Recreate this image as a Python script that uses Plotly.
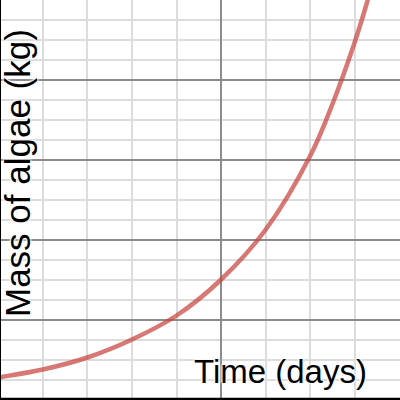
import plotly.graph_objects as go

# Data (time in days, mass in kg units of the grid)
days = [-0.1, 0, 1, 2, 3, 4, 5, 6, 7, 7.5, 8, 8.25, 8.5]
mass = [1.06, 1.1, 1.5, 2.1, 3.0, 4.2, 6.0, 8.5, 12.2, 14.8, 17.9, 19.7, 21.7]

x_label = "Time (days)"
y_label = "Mass of algae (kg)"

halo = "white 0px 0px 2px, white 0px 0px 2px, white 0px 0px 3px, white 0px 0px 3px"

fig = go.Figure()
fig.add_trace(go.Scatter(
    x=days, y=mass, mode="lines", line_shape="spline",
    line=dict(color="rgba(199,68,64,0.72)", width=4.5),
    hoverinfo="skip", showlegend=False,
))

fig.update_layout(
    width=400, height=400,
    margin=dict(l=0, r=0, t=0, b=0),
    paper_bgcolor="white", plot_bgcolor="white",
    xaxis=dict(range=[0.04, 9.01], showticklabels=False, ticks="",
               tick0=0, dtick=5, showgrid=True, gridcolor="#8c8c8c", gridwidth=1.5,
               zeroline=False, showline=False,
               minor=dict(dtick=1, tick0=0, showgrid=True, gridcolor="#dcdcdc", gridwidth=1.5, ticks="")),
    yaxis=dict(range=[-0.025, 19.975], showticklabels=False, ticks="",
               tick0=0, dtick=4, showgrid=True, gridcolor="#8c8c8c", gridwidth=1.5,
               zeroline=False, showline=False,
               minor=dict(dtick=1, tick0=0, showgrid=True, gridcolor="#dcdcdc", gridwidth=1.5, ticks="")),
    shapes=[
        dict(type="line", xref="paper", yref="paper", x0=0, x1=0, y0=0, y1=1,
             line=dict(color="black", width=2)),
        dict(type="line", xref="paper", yref="paper", x0=0, x1=1, y0=0, y1=0,
             line=dict(color="black", width=4.5)),
    ],
    annotations=[
        dict(text=x_label, xref="paper", yref="paper", x=280/400, y=1-371/400,
             xanchor="center", yanchor="middle", showarrow=False,
             font=dict(family="Arial, Liberation Sans", size=33, color="black", shadow=halo)),
        dict(text=y_label, xref="paper", yref="paper", x=17.5/400, y=1-173.5/400,
             xanchor="center", yanchor="middle", showarrow=False, textangle=-90,
             font=dict(family="Arial, Liberation Sans", size=35, color="black", shadow=halo)),
    ],
)

fig.write_html("out.html", config={"displayModeBar": False},
               post_script="document.body.style.margin='0';document.body.style.padding='0';")
